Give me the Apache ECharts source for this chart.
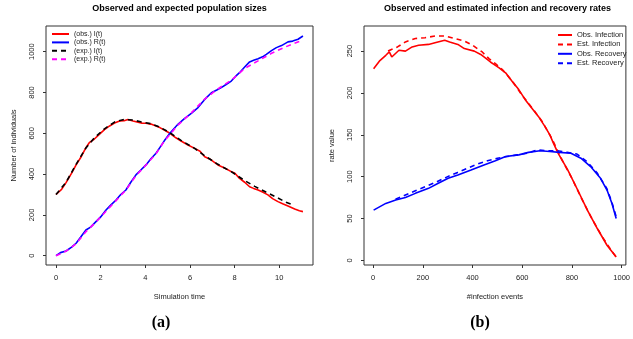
<!DOCTYPE html>
<html>
<head>
<meta charset="utf-8">
<script src="https://cdn.jsdelivr.net/npm/echarts@6/dist/echarts.min.js"></script>
<style>html,body{margin:0;padding:0;background:#fff}#c{width:633px;height:339px}</style>
</head>
<body>
<div id="c"></div>
<script>
// ---------- Panel (a): population sizes ----------
const tObsI = [0, 0.25, 0.45, 0.7, 0.9, 1.1, 1.34, 1.49, 1.72, 1.94, 2.17, 2.4, 2.62, 2.85, 3.05, 3.22, 3.45, 3.63, 3.85, 4.03, 4.25, 4.48, 4.65, 4.85, 5.1, 5.37, 5.6, 5.91, 6.21, 6.45, 6.66, 6.9, 7.05, 7.25, 7.55, 7.85, 8.0, 8.22, 8.45, 8.67, 8.85, 9.05, 9.25, 9.49, 9.7, 9.94, 10.15, 10.39, 10.69, 10.9, 11.06];
const vObsI = [300, 325, 358, 405, 445, 480, 530, 554, 572, 595, 618, 636, 650, 660, 662, 668, 660, 655, 650, 649, 645, 636, 628, 616, 600, 578, 562, 543, 526, 512, 485, 473, 461, 445, 430, 412, 405, 379, 360, 338, 330, 322, 312, 298, 280, 265, 255, 244, 229, 220, 216];

const tObsR = [0, 0.2, 0.45, 0.7, 0.9, 1.1, 1.34, 1.55, 1.79, 2.0, 2.24, 2.45, 2.69, 2.9, 3.13, 3.35, 3.58, 3.8, 4.03, 4.25, 4.48, 4.65, 4.85, 5.1, 5.46, 5.75, 6.06, 6.36, 6.65, 6.96, 7.2, 7.4, 7.6, 7.85, 8.05, 8.22, 8.45, 8.67, 8.85, 9.05, 9.25, 9.42, 9.65, 9.87, 10.1, 10.39, 10.6, 10.84, 11.06];
const vObsR = [0, 15, 23, 42, 61, 90, 126, 140, 167, 190, 224, 248, 273, 300, 322, 360, 396, 420, 445, 475, 502, 530, 563, 600, 644, 672, 698, 726, 765, 799, 812, 824, 838, 856, 880, 897, 925, 950, 958, 966, 975, 987, 1005, 1020, 1030, 1048, 1052, 1061, 1077];

const tExpI = [0, 0.45, 0.9, 1.34, 1.72, 2.17, 2.62, 3.05, 3.45, 3.85, 4.25, 4.65, 5.1, 5.6, 6.21, 6.66, 7.25, 7.85, 8.45, 8.9, 9.4, 9.9, 10.3, 10.6];
const vExpI = [300, 360, 448, 528, 578, 622, 655, 668, 665, 655, 647, 630, 603, 565, 526, 490, 448, 412, 368, 340, 312, 285, 262, 250];

const tExpR = [0, 0.45, 0.9, 1.34, 1.79, 2.24, 2.69, 3.13, 3.58, 4.03, 4.48, 4.85, 5.46, 6.06, 6.66, 7.25, 7.85, 8.45, 9.05, 9.65, 10.2, 10.6, 10.9];
const vExpR = [0, 22, 58, 118, 165, 218, 270, 322, 392, 445, 500, 562, 640, 700, 768, 818, 860, 918, 955, 992, 1020, 1038, 1050];

const xTicksA = [0, 2, 4, 6, 8, 10];
const yTicksA = [0, 200, 400, 600, 800, 1000];

// ---------- Panel (b): rates ----------
const nObsInf = [2, 25, 51, 65, 75, 104, 130, 157, 183, 223, 249, 288, 308, 341, 367, 407, 433, 472, 492, 507, 533, 559, 586, 612, 638, 665, 691, 711, 724, 744, 783, 823, 862, 902, 941, 978];
const vObsInf = [229, 238, 245, 249, 243, 251, 250, 255, 257, 258, 260, 263, 261, 258, 253, 250, 246, 237, 233, 230, 224, 214, 204, 192, 182, 172, 160, 150, 141, 128, 108, 84, 60, 38, 18, 4];

const nEstInf = [60, 98, 130, 170, 209, 249, 288, 328, 367, 400, 439, 466, 492, 520, 560, 600, 640, 680, 720, 760, 800, 840, 880, 920, 960, 978];
const vEstInf = [250, 255, 261, 265, 266, 268, 268, 265, 262, 257, 249, 241, 235, 228, 214, 197, 182, 166, 145, 120, 98, 73, 50, 29, 11, 4];

const nObsRec = [2, 51, 91, 130, 170, 223, 262, 302, 341, 394, 446, 492, 533, 586, 625, 671, 711, 750, 796, 836, 875, 915, 941, 961, 978];
const vObsRec = [60, 68, 72, 75, 80, 86, 92, 98, 102, 108, 114, 119, 124, 126, 129, 131, 130, 129, 128, 122, 112, 98, 84, 68, 50];

const nEstRec = [90, 130, 170, 210, 250, 300, 340, 380, 420, 460, 500, 540, 580, 620, 660, 700, 740, 780, 820, 860, 900, 940, 960, 978];
const vEstRec = [73, 78, 83, 88, 93, 100, 105, 110, 115, 119, 122, 124, 126, 128, 132, 131, 131, 129, 127, 118, 105, 86, 70, 52];

const xTicksB = [0, 200, 400, 600, 800, 1000];
const yTicksB = [0, 50, 100, 150, 200, 250];

// ---------- build ----------
const FONT = 'Liberation Sans';
const zip = (a, b) => a.map((x, i) => [x, b[i]]);
const plain = v => String(v);

function xAxisDef(gi, min, max, ticks, name) {
  return {
    type: 'value', gridIndex: gi, min: min, max: max,
    axisLine: { show: false, onZero: false },
    splitLine: { show: false },
    axisTick: { show: true, customValues: ticks, length: 3, lineStyle: { color: '#333', width: 1 } },
    axisLabel: { customValues: ticks, formatter: plain, margin: 9, fontSize: 7.5, color: '#222', fontFamily: FONT, hideOverlap: false, showMinLabel: true, showMaxLabel: true },
    name: name, nameLocation: 'middle', nameGap: 28,
    nameTextStyle: { fontSize: 7.5, color: '#222', fontFamily: FONT }
  };
}
function yAxisDef(gi, min, max, ticks, name) {
  return {
    type: 'value', gridIndex: gi, min: min, max: max,
    axisLine: { show: false, onZero: false },
    splitLine: { show: false },
    axisTick: { show: true, customValues: ticks, length: 3, lineStyle: { color: '#333', width: 1 } },
    axisLabel: { customValues: ticks, formatter: plain, margin: 10, rotate: 90, fontSize: 7.5, color: '#222', fontFamily: FONT, hideOverlap: false, showMinLabel: true, showMaxLabel: true },
    name: name, nameLocation: 'middle', nameGap: 28, nameRotate: 90,
    nameTextStyle: { fontSize: 7.5, color: '#222', fontFamily: FONT }
  };
}
function line(name, gi, data, color, dashed) {
  return {
    name: name, type: 'line', xAxisIndex: gi, yAxisIndex: gi,
    data: data, symbol: 'none', showSymbol: false, silent: true,
    lineStyle: { color: color, width: 1.6, type: dashed ? [5, 4] : 'solid' },
    itemStyle: { color: color },
    emphasis: { disabled: true }
  };
}

const chart = echarts.init(document.getElementById('c'), null, { renderer: 'canvas', width: 633, height: 339 });
chart.setOption({
  animation: false,
  backgroundColor: '#fff',
  grid: [
    { left: 46, top: 26, width: 267, height: 239, show: true, borderColor: '#333', borderWidth: 1, backgroundColor: 'transparent' },
    { left: 364, top: 26, width: 267, height: 239, show: true, borderColor: '#333', borderWidth: 1, backgroundColor: 'transparent' }
  ],
  xAxis: [
    xAxisDef(0, -0.448, 11.51, xTicksA, 'Simulation time'),
    xAxisDef(1, -36.7, 1017, xTicksB, '#infection events')
  ],
  yAxis: [
    yAxisDef(0, -45.6, 1126, yTicksA, 'Number of individuals'),
    yAxisDef(1, -5.6, 280, yTicksB, 'rate value')
  ],
  legend: [
    {
      data: ['(obs.) I(t)', '(obs.) R(t)', '(exp.) I(t)', '(exp.) R(t)'],
      orient: 'vertical', left: 51, top: 30.5, padding: 0,
      itemWidth: 17, itemHeight: 8, itemGap: 1.4,
      selectedMode: false,
      itemStyle: { opacity: 0 },
      textStyle: { fontSize: 7, color: '#222', fontFamily: FONT }
    },
    {
      data: ['Obs. Infection', 'Est. Infection', 'Obs. Recovery', 'Est. Recovery'],
      orient: 'vertical', left: 557, top: 31, padding: 0,
      itemWidth: 14, itemHeight: 8, itemGap: 1.4,
      selectedMode: false,
      itemStyle: { opacity: 0 },
      textStyle: { fontSize: 7.5, color: '#222', fontFamily: FONT }
    }
  ],
  graphic: [
    { type: 'text', x: 179.5, y: 8.5, style: { text: 'Observed and expected population sizes', fill: '#000', font: 'bold 9px "Liberation Sans"', textAlign: 'center', textVerticalAlign: 'middle' } },
    { type: 'text', x: 497.5, y: 8.5, style: { text: 'Observed and estimated infection and recovery rates', fill: '#000', font: 'bold 9px "Liberation Sans"', textAlign: 'center', textVerticalAlign: 'middle' } },
    { type: 'text', x: 161, y: 323, style: { text: '(a)', fill: '#000', font: 'bold 16px "Liberation Serif"', textAlign: 'center', textVerticalAlign: 'middle' } },
    { type: 'text', x: 480, y: 323, style: { text: '(b)', fill: '#000', font: 'bold 16px "Liberation Serif"', textAlign: 'center', textVerticalAlign: 'middle' } }
  ],
  series: [
    line('(obs.) I(t)', 0, zip(tObsI, vObsI), '#ff0000', false),
    line('(obs.) R(t)', 0, zip(tObsR, vObsR), '#0000ff', false),
    line('(exp.) I(t)', 0, zip(tExpI, vExpI), '#000000', true),
    line('(exp.) R(t)', 0, zip(tExpR, vExpR), '#ff00ff', true),
    line('Obs. Infection', 1, zip(nObsInf, vObsInf), '#ff0000', false),
    line('Est. Infection', 1, zip(nEstInf, vEstInf), '#ff0000', true),
    line('Obs. Recovery', 1, zip(nObsRec, vObsRec), '#0000ff', false),
    line('Est. Recovery', 1, zip(nEstRec, vEstRec), '#0000ff', true)
  ]
});
</script>
</body>
</html>
